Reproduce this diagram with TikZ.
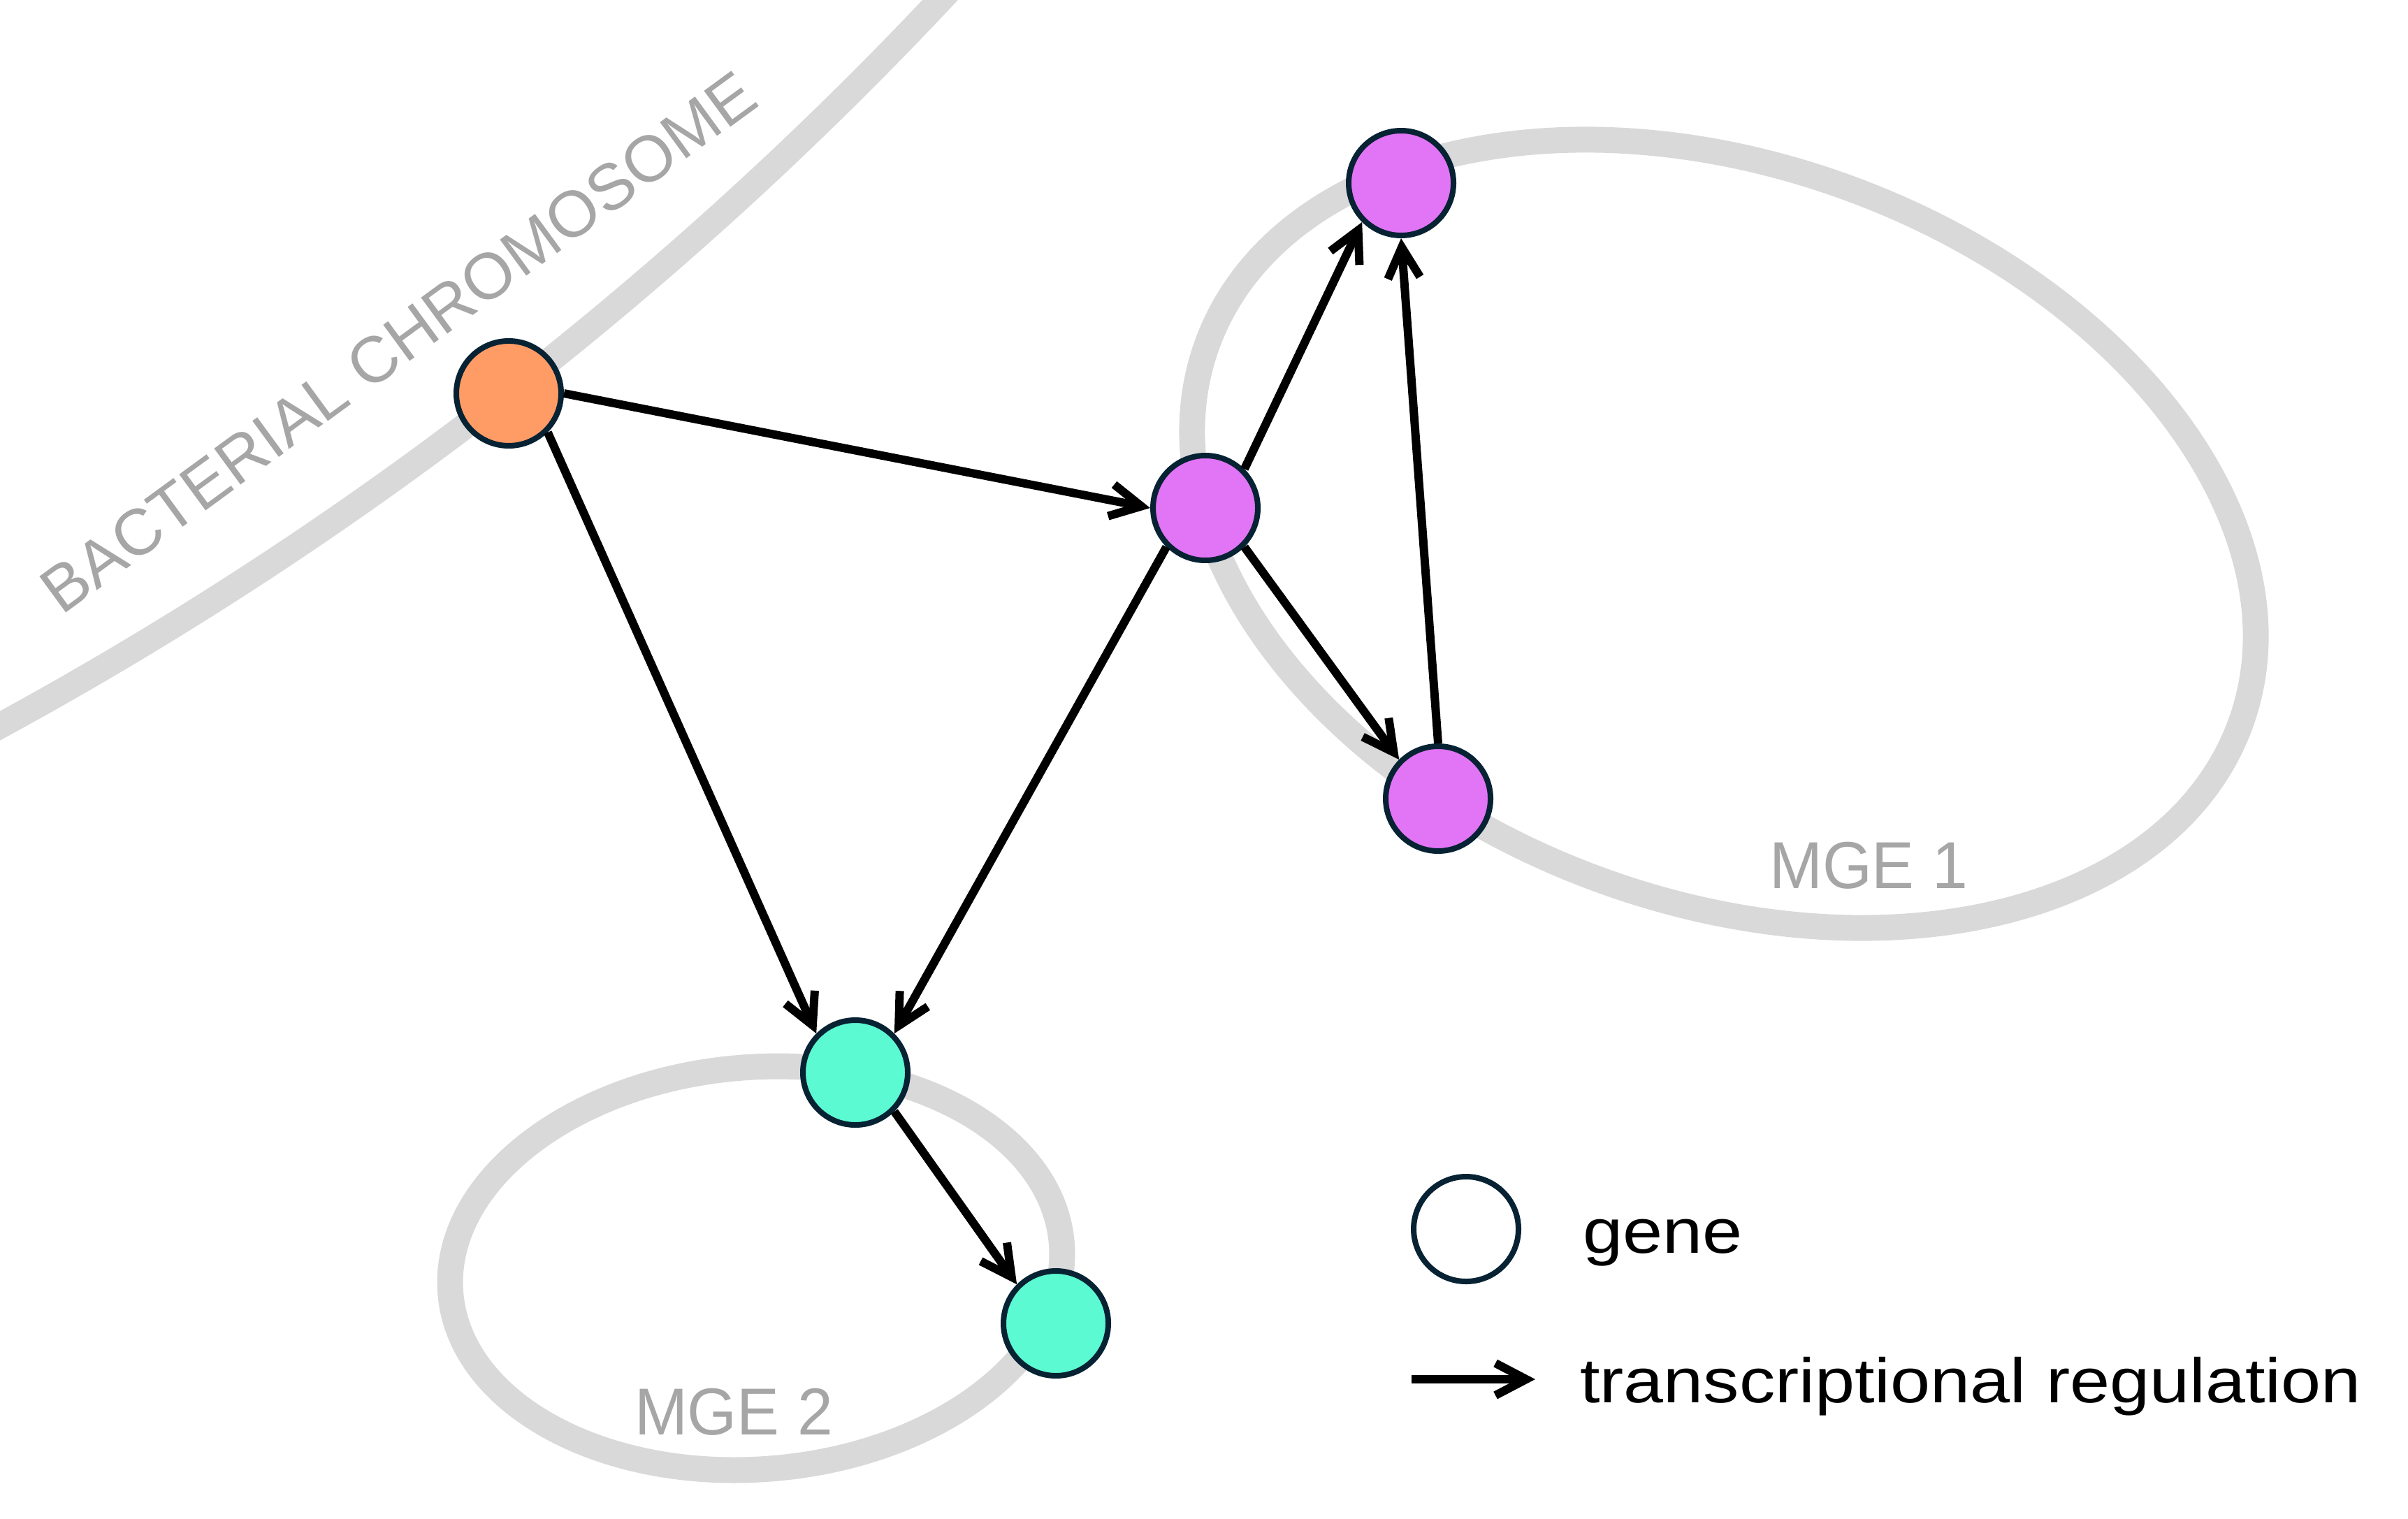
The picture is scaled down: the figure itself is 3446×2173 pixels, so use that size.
\documentclass[tikz,border=0pt]{standalone}
\usepackage{fontspec}
\setmainfont{Liberation Sans}
\newfontfamily\legendfont{Liberation Sans}[FakeStretch=1.14]
\newfontfamily\mgefont{Liberation Sans}[FakeStretch=0.96]
\usetikzlibrary{arrows.meta}
\definecolor{band}{HTML}{D9D9D9}
\definecolor{labelgrey}{HTML}{A6A6A6}
\definecolor{genebord}{HTML}{062233}
\definecolor{orangegene}{HTML}{FF9C66}
\definecolor{pinkgene}{HTML}{E175F5}
\definecolor{tealgene}{HTML}{5CFAD2}
\begin{document}
\begin{tikzpicture}[x=0.1pt,y=-0.1pt,
  gene/.style={circle,draw=genebord,line width=0.8pt,minimum size=15pt,inner sep=0pt,outer sep=0.4pt},
  reg/.style={-{Straight Barb[length=4.4pt,width=4.6pt]},line width=1.2pt,black},
  bandline/.style={draw=band,line width=3.7pt},
  lbl/.style={text=labelgrey,inner sep=0pt,anchor=base west}]
\useasboundingbox (0,0) rectangle (3446,2173);
\begin{scope}
\clip (0,0) rectangle (3446,2173);
\draw[bandline] (-2557,-3669.5) circle[radius=535.7pt];
\end{scope}
\draw[bandline, rotate around={-20.3:(2467,764)}] (2467,764) ellipse[x radius=78.77pt, y radius=52.61pt];
\draw[bandline, rotate around={4.7:(1082,1815)}] (1082,1815) ellipse[x radius=43.88pt, y radius=28.77pt];

\node[lbl,rotate=36.2] (chromlabel) at (87,883) {\fontsize{9.3pt}{11pt}\selectfont BACTERIAL CHROMOSOME};
\node[lbl] (mgeone) at (2530,1271) {\mgefont\fontsize{9.5pt}{11pt}\selectfont MGE 1};
\node[lbl] (mgetwo) at (906,2053) {\mgefont\fontsize{9.5pt}{11pt}\selectfont MGE 2};

\node[gene,fill=orangegene] (o) at (728,563) {};
\node[gene,fill=pinkgene] (pm) at (1725,727) {};
\node[gene,fill=pinkgene] (pt) at (2005,262) {};
\node[gene,fill=pinkgene] (pb) at (2058,1143) {};
\node[gene,fill=tealgene] (tt) at (1224,1535) {};
\node[gene,fill=tealgene] (tb) at (1511,1894) {};

\draw[reg] (o.east) -- (pm.west);
\draw[reg] (o.south east) -- (tt.north west);
\draw[reg] (pm.south west) -- (tt.north east);
\draw[reg] (pm.north east) -- (pt.south west);
\draw[reg] (pm.south east) -- (pb.north west);
\draw[reg] (pb.north) -- (pt.south);
\draw[reg] (tt.south east) -- (tb.north west);

\node[gene,fill=white] (legendgene) at (2098,1759) {};
\node[anchor=base west,inner sep=0pt] (genetxt) at (2263,1793) {\legendfont\fontsize{9pt}{11pt}\selectfont gene};
\coordinate (la1) at (2020,1974);
\coordinate (la2) at (2197,1974);
\draw[reg] (la1) -- (la2);
\node[anchor=base west,inner sep=0pt] (regtxt) at (2259,2007) {\legendfont\fontsize{9pt}{11pt}\selectfont transcriptional regulation};
\end{tikzpicture}
\end{document}
